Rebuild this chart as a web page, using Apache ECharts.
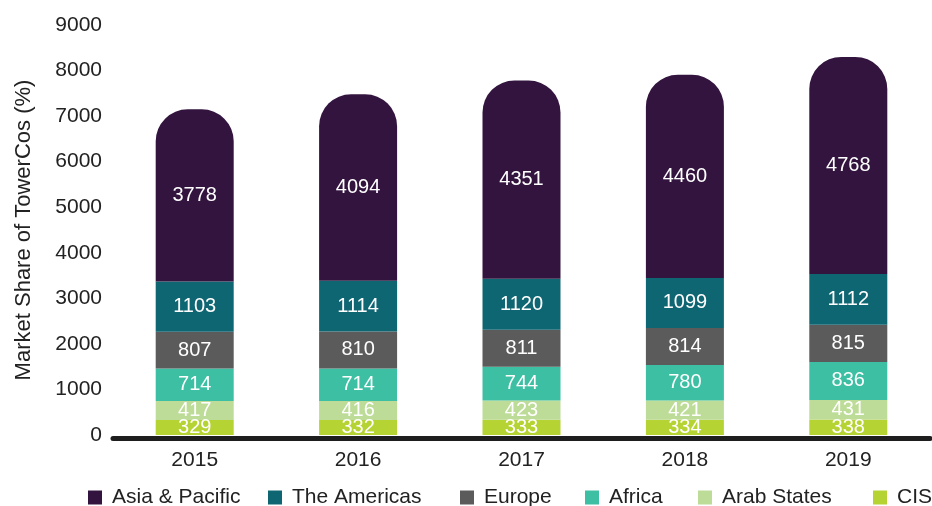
<!DOCTYPE html>
<html>
<head>
<meta charset="utf-8">
<title>Market Share of TowerCos</title>
<script src="https://cdn.jsdelivr.net/npm/echarts@6/dist/echarts.min.js"></script>
<style>
  html, body { margin: 0; padding: 0; background: #ffffff; }
  #chart { width: 932px; height: 506px; }
</style>
</head>
<body>
<div id="chart"></div>
<script>
// Tower counts by region, per year (stacked bottom to top: CIS ... Asia & Pacific)
const years = ['2015', '2016', '2017', '2018', '2019'];
const cis = [329, 332, 333, 334, 338];
const arabStates = [417, 416, 423, 421, 431];
const africa = [714, 714, 744, 780, 836];
const europe = [807, 810, 811, 814, 815];
const americas = [1103, 1114, 1120, 1099, 1112];
const asiaPacific = [3778, 4094, 4351, 4460, 4768];
const yTicks = { min: 0, max: 9000, step: 1000 };

const FONT = 'Liberation Sans, Arial, sans-serif';
const colors = {
  'CIS': '#b6d334',
  'Arab States': '#bddc98',
  'Africa': '#3cbfa2',
  'Europe': '#5b5b5b',
  'The Americas': '#0f6673',
  'Asia & Pacific': '#33143f'
};

const stackOrder = [
  ['CIS', cis],
  ['Arab States', arabStates],
  ['Africa', africa],
  ['Europe', europe],
  ['The Americas', americas],
  ['Asia & Pacific', asiaPacific]
];

const series = stackOrder.map(([name, values], i) => ({
  name: name,
  type: 'bar',
  stack: 'total',
  barWidth: 78,
  data: values,
  itemStyle: {
    color: colors[name],
    borderRadius: i === stackOrder.length - 1 ? [32, 32, 0, 0] : 0
  },
  label: {
    show: true,
    position: 'inside',
    color: '#ffffff',
    fontFamily: FONT,
    fontSize: 20
  }
}));

// Legend items placed left to right, one legend block each
const legendOrder = ['Asia & Pacific', 'The Americas', 'Europe', 'Africa', 'Arab States', 'CIS'];
const legendLeft = [83, 263, 455, 580, 693, 868];
const legends = legendOrder.map((name, i) => ({
  data: [name],
  left: legendLeft[i],
  top: 482,
  icon: 'rect',
  itemWidth: 14,
  itemHeight: 14,
  textStyle: {
    fontFamily: FONT,
    fontSize: 21,
    color: '#222222',
    padding: [0, 0, 0, 5]
  },
  selectedMode: false
}));

const chart = echarts.init(document.getElementById('chart'), null, { renderer: 'canvas' });
chart.setOption({
  animation: false,
  backgroundColor: '#ffffff',
  grid: { left: 113, right: 2, top: 25, bottom: 71, containLabel: false },
  legend: legends,
  xAxis: {
    type: 'category',
    data: years,
    offset: 3,
    axisLine: { show: true, onZero: false, lineStyle: { color: '#1e1e1e', width: 5 } },
    axisTick: { show: false },
    axisLabel: { color: '#222222', fontFamily: FONT, fontSize: 21, margin: 12 }
  },
  yAxis: {
    type: 'value',
    min: yTicks.min,
    max: yTicks.max,
    interval: yTicks.step,
    name: 'Market Share of TowerCos (%)',
    nameLocation: 'middle',
    nameGap: 78,
    nameTextStyle: { color: '#222222', fontFamily: FONT, fontSize: 22 },
    axisLine: { show: false },
    axisTick: { show: false },
    splitLine: { show: false },
    axisLabel: {
      color: '#222222',
      fontFamily: FONT,
      fontSize: 21,
      margin: 11,
      formatter: (v) => String(v)
    }
  },
  series: series
});
</script>
</body>
</html>
